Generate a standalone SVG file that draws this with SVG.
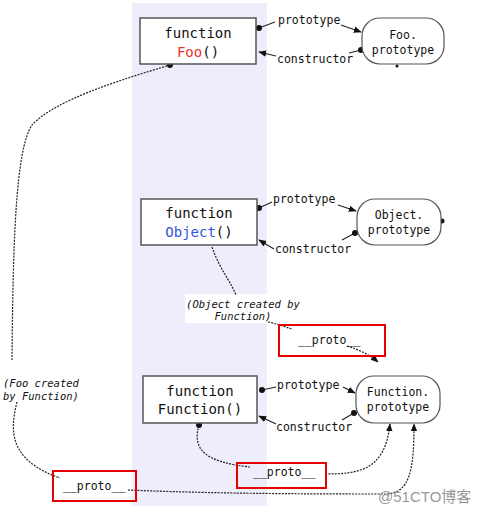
<svg xmlns="http://www.w3.org/2000/svg" width="485" height="514" viewBox="0 0 485 514">
<defs>
<style>
.box{fill:#fff;stroke:#555;stroke-width:1.5}
.rbox{fill:#fff;stroke:#555;stroke-width:1.2}
.red{fill:none;stroke:#e60000;stroke-width:2}
.t{font-family:"DejaVu Sans Mono",monospace;font-size:14px;fill:#111;text-anchor:middle}
.s{font-family:"DejaVu Sans Mono",monospace;font-size:11.5px;fill:#111}
.sc{text-anchor:middle}
.i{font-style:italic;font-size:10.5px}
.ln{fill:none;stroke:#222;stroke-width:1.1}
.d{fill:none;stroke:#222;stroke-width:1.2;stroke-dasharray:2,1.2}
</style>
<marker id="ah" viewBox="0 0 10 10" refX="9" refY="5" markerWidth="8" markerHeight="8" orient="auto" markerUnits="userSpaceOnUse">
<path d="M0,1 L10,5 L0,9 z" fill="#111"/>
</marker>
<marker id="dot" viewBox="0 0 10 10" refX="5" refY="5" markerWidth="6" markerHeight="6" markerUnits="userSpaceOnUse">
<circle cx="5" cy="5" r="5" fill="#111"/>
</marker>
</defs>
<rect width="485" height="514" fill="#fff"/>
<rect x="132" y="3" width="135" height="503" fill="#ededfb"/>
<rect x="185" y="294" width="115" height="29" fill="#fff"/>

<g id="connectors">
<path class="ln" d="M259,28 L275,22" marker-start="url(#dot)"/>
<path class="ln" d="M341,25 L361,32" marker-end="url(#ah)"/>
<path class="ln" d="M361,50 L349,53" marker-start="url(#dot)"/>
<path class="ln" d="M276,56 L259,52" marker-end="url(#ah)"/>

<path class="ln" d="M259,208 L272,202" marker-start="url(#dot)"/>
<path class="ln" d="M338,205 L356,211" marker-end="url(#ah)"/>
<path class="ln" d="M355,233 L342,240" marker-start="url(#dot)"/>
<path class="ln" d="M274,249 L259,240" marker-end="url(#ah)"/>

<path class="ln" d="M262,390 L276,387" marker-start="url(#dot)"/>
<path class="ln" d="M343,387 L355,393" marker-end="url(#ah)"/>
<path class="ln" d="M354,413 L342,420" marker-start="url(#dot)"/>
<path class="ln" d="M276,424 L259,416" marker-end="url(#ah)"/>

<circle cx="442" cy="221" r="2.5" fill="#111"/>
<circle cx="397" cy="66" r="1.5" fill="#111"/>

<path class="d" d="M170,65 C120,80 55,100 32,125 C15,150 13,250 12,360" marker-start="url(#dot)"/>
<path class="d" d="M17,402 C10,430 8,460 60,478"/>
<path class="d" d="M212,247 C220,270 230,280 236,295"/>
<path class="d" d="M268,322 C278,324 285,327 292,329"/>
<path class="d" d="M347,346 C360,350 370,355 378,362" marker-end="url(#ah)"/>
<path class="d" d="M199,425 C192,450 205,462 250,467" marker-start="url(#dot)"/>
<path class="d" d="M325,474 C360,474 385,470 390,424" marker-end="url(#ah)"/>
<path class="d" d="M128,490 C220,494 330,494 385,494 C410,494 414,470 414,424" marker-end="url(#ah)"/>
</g>

<g id="foo">
<rect class="box" x="140" y="18" width="116" height="46"/>
<text class="t" x="198" y="38">function</text>
<text class="t" x="198" y="57"><tspan fill="#e8302a">Foo</tspan>()</text>
</g>
<g id="foo-prototype">
<rect class="rbox" x="362" y="18" width="82" height="46" rx="18"/>
<text class="s sc" x="403" y="39">Foo.</text>
<text class="s sc" x="403" y="54">prototype</text>
</g>
<g id="object">
<rect class="box" x="141" y="199" width="116" height="46"/>
<text class="t" x="199" y="218">function</text>
<text class="t" x="199" y="237"><tspan fill="#3355dd">Object</tspan>()</text>
</g>
<g id="object-prototype">
<rect class="rbox" x="357" y="199" width="84" height="46" rx="18"/>
<text class="s sc" x="399" y="219">Object.</text>
<text class="s sc" x="399" y="234">prototype</text>
</g>
<g id="function">
<rect class="box" x="143" y="376" width="114" height="47"/>
<text class="t" x="200" y="396">function</text>
<text class="t" x="200" y="414">Function()</text>
</g>
<g id="function-prototype">
<rect class="rbox" x="356" y="376" width="84" height="47" rx="18"/>
<text class="s sc" x="398" y="396">Function.</text>
<text class="s sc" x="398" y="411">prototype</text>
</g>

<g id="labels">
<text class="s" x="278" y="24">prototype</text>
<text class="s" x="277" y="63">constructor</text>
<text class="s" x="273" y="203">prototype</text>
<text class="s" x="275" y="253">constructor</text>
<text class="s" x="277" y="389">prototype</text>
<text class="s" x="276" y="431">constructor</text>
<text class="s i sc" x="243" y="308">(Object created by</text>
<text class="s i sc" x="243" y="320">Function)</text>
<text class="s i" x="3" y="387">(Foo created</text>
<text class="s i" x="3" y="400">by Function)</text>
</g>

<g id="proto1">
<rect class="red" x="279" y="325" width="106" height="31"/>
<text class="s" x="298" y="344">__proto__</text>
</g>
<g id="proto2">
<rect class="red" x="237" y="463" width="89" height="25"/>
<text class="s" x="253" y="476">__proto__</text>
</g>
<g id="proto3">
<rect class="red" x="53" y="471" width="83" height="30"/>
<text class="s" x="63" y="490">__proto__</text>
</g>
<text x="378" y="502" font-family="'Liberation Sans','Noto Sans CJK SC',sans-serif" font-size="15" fill="#999">@51CTO博客</text>
</svg>
